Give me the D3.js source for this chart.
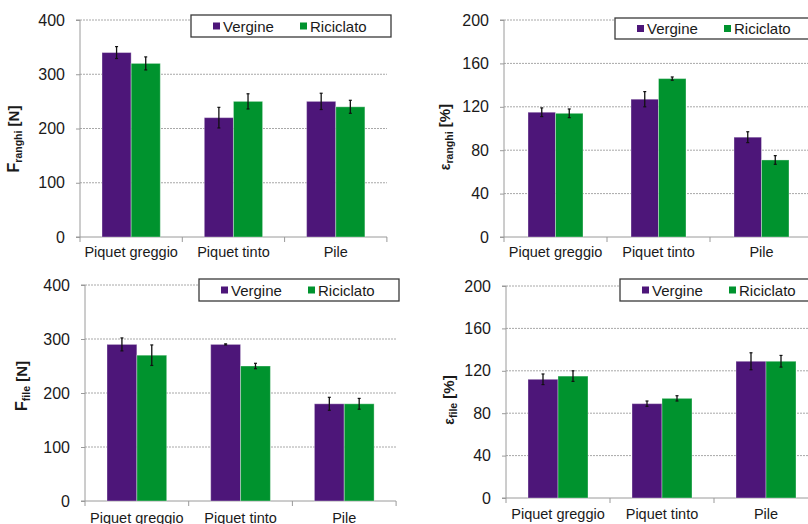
<!DOCTYPE html>
<html>
<head>
<meta charset="utf-8">
<script src="https://cdn.jsdelivr.net/npm/d3@7/dist/d3.min.js"></script>
<style>
  html, body { margin: 0; padding: 0; background: #fff; }
  svg { display: block; font-family: "Liberation Sans", Arial, sans-serif; }
</style>
</head>
<body>
<svg id="chart" width="808" height="524"></svg>
<script>
// Fabric types and material series
const categories = ["Piquet greggio", "Piquet tinto", "Pile"];
const series = ["Vergine", "Riciclato"];
const seriesColors = ["#4d1679", "#00932e"];

// Breaking force along the ribs (ranghi) [N]
const fRanghiVergine = [340, 220, 250];
const fRanghiRiciclato = [320, 250, 240];
const fRanghiVergineErr = [11, 19, 15];
const fRanghiRiciclatoErr = [12, 14, 12];

// Elongation along the ribs (ranghi) [%]
const eRanghiVergine = [115, 127, 92];
const eRanghiRiciclato = [114, 146, 71];
const eRanghiVergineErr = [4, 7, 5];
const eRanghiRiciclatoErr = [4, 1.5, 4];

// Breaking force along the rows (file) [N]
const fFileVergine = [290, 290, 180];
const fFileRiciclato = [270, 250, 180];
const fFileVergineErr = [12, 1, 12];
const fFileRiciclatoErr = [19, 5, 10];

// Elongation along the rows (file) [%]
const eFileVergine = [112, 89, 129];
const eFileRiciclato = [115, 94, 129];
const eFileVergineErr = [5, 2.5, 8];
const eFileRiciclatoErr = [5, 2.5, 5.5];

// Axis tick values
const forceTicks = [0, 100, 200, 300, 400];
const strainTicks = [0, 40, 80, 120, 160, 200];

const svg = d3.select("#chart");

function drawPanel(p) {
  const g = svg.append("g");
  const y = d3.scaleLinear().domain([0, d3.max(p.ticks)]).range([p.bottom, p.top]);
  const x = d3.scaleBand().domain(categories).range([p.left, p.left + categories.length * p.band]);
  const xs = d3.scaleBand().domain(series).range([p.pad, x.bandwidth() - p.pad]);

  // dotted horizontal gridlines
  g.selectAll("line.grid").data(p.ticks.filter(t => t > 0)).join("line")
    .attr("x1", p.left).attr("x2", p.right)
    .attr("y1", d => y(d)).attr("y2", d => y(d))
    .attr("stroke", "#a8a8a8").attr("stroke-width", 1)
    .attr("stroke-dasharray", "2,1");

  // value axis
  const ya = g.append("g").attr("transform", `translate(${p.left},0)`)
    .call(d3.axisLeft(y).tickValues(p.ticks).tickSize(4).tickPadding(11).tickFormat(d3.format("d")));
  ya.select(".domain").attr("stroke", "#9a9a9a").attr("d", `M-4,${p.bottom}H0V${p.top}H-4`);
  ya.selectAll(".tick line").attr("stroke", "#9a9a9a");
  ya.selectAll(".tick text").attr("font-size", 16).attr("fill", "#1a1a1a")
    .attr("font-family", "'Liberation Sans', Arial, sans-serif");

  // category axis
  const xa = g.append("g").attr("transform", `translate(0,${p.bottom})`)
    .call(d3.axisBottom(x).tickSize(0).tickPadding(p.labelPad));
  xa.select(".domain").attr("stroke", "#9a9a9a").attr("d", `M${p.left},0H${p.right}`);
  xa.selectAll(".tick text").attr("font-size", 14.5).attr("fill", "#1a1a1a")
    .attr("font-family", "'Liberation Sans', Arial, sans-serif");
  const edges = categories.map(c => x(c)).concat([x(categories[categories.length - 1]) + x.bandwidth()]);
  g.selectAll("line.xt").data(edges).join("line")
    .attr("x1", d => d).attr("x2", d => d)
    .attr("y1", p.bottom).attr("y2", p.bottom + 5)
    .attr("stroke", "#9a9a9a");

  // bars
  const rows = [];
  categories.forEach((c, i) => {
    series.forEach((s, j) => {
      rows.push({ c, s, j, v: p.values[j][i], e: p.errors[j][i] });
    });
  });
  g.selectAll("rect.bar").data(rows).join("rect")
    .attr("x", d => x(d.c) + xs(d.s))
    .attr("width", xs.bandwidth())
    .attr("y", d => y(d.v))
    .attr("height", d => y(0) - y(d.v))
    .attr("fill", d => seriesColors[d.j])
    .attr("stroke", "rgba(255,255,255,0.35)")
    .attr("stroke-width", 1);

  // error bars
  const eb = g.selectAll("g.err").data(rows).join("g")
    .attr("transform", d => `translate(${x(d.c) + xs(d.s) + xs.bandwidth() / 2},0)`);
  eb.append("line")
    .attr("y1", d => y(d.v + d.e)).attr("y2", d => y(d.v - d.e))
    .attr("stroke", "#111").attr("stroke-width", 1.3);
  eb.append("line").attr("x1", -1.5).attr("x2", 1.5)
    .attr("y1", d => y(d.v + d.e)).attr("y2", d => y(d.v + d.e))
    .attr("stroke", "#111").attr("stroke-width", 1.2);
  eb.append("line").attr("x1", -1.5).attr("x2", 1.5)
    .attr("y1", d => y(d.v - d.e)).attr("y2", d => y(d.v - d.e))
    .attr("stroke", "#111").attr("stroke-width", 1.2);

  // legend
  const lg = g.append("g").attr("transform", `translate(${p.legend[0]},${p.legend[1]})`);
  lg.append("rect").attr("x", 0).attr("y", 0).attr("width", 200).attr("height", p.legend[2])
    .attr("fill", "#fff").attr("stroke", "#3a3a3a").attr("stroke-width", 1.3);
  series.forEach((s, j) => {
    const ox = 22 + j * 87;
    lg.append("rect").attr("x", ox).attr("y", p.legend[2] / 2 - 3.5).attr("width", 7).attr("height", 7)
      .attr("fill", seriesColors[j]);
    lg.append("text").attr("x", ox + 10).attr("y", p.legend[2] / 2 + 5.5)
      .attr("font-size", 15).attr("fill", "#1a1a1a").text(s);
  });

  // value-axis title
  const t = g.append("text")
    .attr("transform", `translate(${p.title[0]},${p.title[1]}) rotate(-90)`)
    .attr("text-anchor", "middle").attr("font-weight", "bold").attr("fill", "#1a1a1a");
  t.append("tspan").attr("font-size", p.symbolSize).text(p.symbol);
  t.append("tspan").attr("font-size", 10.5).attr("dy", 3).text(p.sub);
  t.append("tspan").attr("font-size", 15).attr("dy", -3).text(" " + p.unit);
}

drawPanel({
  left: 80, right: 387, band: 102.3, pad: 22, top: 20, bottom: 237, ticks: forceTicks, labelPad: 10,
  values: [fRanghiVergine, fRanghiRiciclato], errors: [fRanghiVergineErr, fRanghiRiciclatoErr],
  legend: [191, 15, 22], title: [19, 139], symbol: "F", symbolSize: 16, sub: "ranghi", unit: "[N]"
});
drawPanel({
  left: 504, right: 808, band: 103, pad: 24, top: 20, bottom: 237, ticks: strainTicks, labelPad: 10,
  values: [eRanghiVergine, eRanghiRiciclato], errors: [eRanghiVergineErr, eRanghiRiciclatoErr],
  legend: [615, 18, 21], title: [450, 137], symbol: "ε", symbolSize: 14, sub: "ranghi", unit: "[%]"
});
drawPanel({
  left: 85, right: 396, band: 103.7, pad: 22, top: 285, bottom: 501, ticks: forceTicks, labelPad: 12,
  values: [fFileVergine, fFileRiciclato], errors: [fFileVergineErr, fFileRiciclatoErr],
  legend: [199, 279, 22], title: [27, 386], symbol: "F", symbolSize: 16, sub: "file", unit: "[N]"
});
drawPanel({
  left: 506, right: 808, band: 104, pad: 22, top: 286, bottom: 498, ticks: strainTicks, labelPad: 11,
  values: [eFileVergine, eFileRiciclato], errors: [eFileVergineErr, eFileRiciclatoErr],
  legend: [620, 279, 22], title: [454, 400], symbol: "ε", symbolSize: 14, sub: "file", unit: "[%]"
});
</script>
</body>
</html>
